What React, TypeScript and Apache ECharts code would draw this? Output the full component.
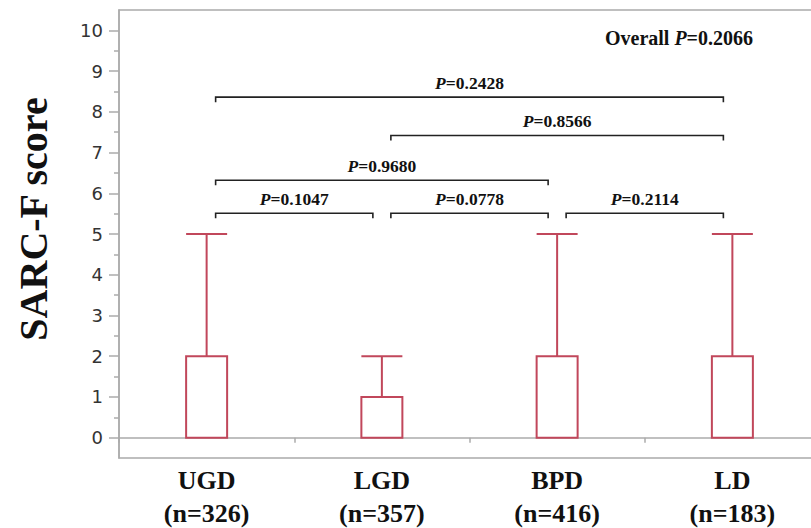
import React, { useEffect, useRef } from 'react';
import * as echarts from 'echarts';

const categories = ['UGD', 'LGD', 'BPD', 'LD'];
const groupSizes = [326, 357, 416, 183];
const mins = [0, 0, 0, 0];
const q1s = [0, 0, 0, 0];
const medians = [0, 0, 0, 0];
const q3s = [2, 1, 2, 2];
const maxes = [5, 2, 5, 5];
const majorTicks = [0, 1, 2, 3, 4, 5, 6, 7, 8, 9, 10];
const minorTicks = [0.5, 1.5, 2.5, 3.5, 4.5, 5.5, 6.5, 7.5, 8.5, 9.5];
const bracketFrom = [0, 1, 0, 0, 1, 2];
const bracketTo = [3, 3, 2, 1, 2, 3];
const bracketLevel = [8.36, 7.42, 6.32, 5.51, 5.51, 5.51];
const bracketP = ['0.2428', '0.8566', '0.9680', '0.1047', '0.0778', '0.2114'];
const overallP = '0.2066';

const SERIF = '"Liberation Serif", "Times New Roman", serif';
const BOX = '#C1475B';
const AXIS = '#ababab';

export default function App() {
  const ref = useRef<HTMLDivElement>(null);
  useEffect(() => {
    if (!ref.current) return;
    document.body.style.margin = '0';
    const chart = echarts.init(ref.current, null, { renderer: 'svg' });
    const boxData = categories.map((_, i) => [mins[i], q1s[i], medians[i], q3s[i], maxes[i]]);
    const bracketData = bracketFrom.map((f, i) => [f, bracketTo[i], bracketLevel[i], i]);
    chart.setOption({
      animation: false,
      grid: {
        left: 119, width: 701, top: 10, height: 448,
        outerBoundsMode: 'none', containLabel: false,
        show: true, borderColor: AXIS, borderWidth: 1.5, backgroundColor: 'transparent',
      },
      xAxis: {
        type: 'category',
        data: categories,
        axisLine: { lineStyle: { color: AXIS, width: 1.5 } },
        axisTick: { show: true, length: 5, lineStyle: { color: AXIS, width: 1.5 } },
        axisLabel: {
          margin: 6,
          formatter: (v: string, i: number) => `{a|${v}}\n{a|(n=${groupSizes[i]})}`,
          rich: {
            a: { fontFamily: SERIF, fontWeight: 'bold', fontSize: 26, lineHeight: 33, color: '#111' },
          },
        },
        splitLine: { show: false },
      },
      yAxis: [
        {
          type: 'value', min: -0.5, max: 10.5,
          axisLine: { show: true, lineStyle: { color: AXIS, width: 1.5 } },
          axisTick: { show: true, length: 10, customValues: majorTicks, lineStyle: { color: AXIS, width: 1.5 } },
          axisLabel: {
            customValues: majorTicks, margin: 16,
            fontFamily: '"DejaVu Sans", Verdana, sans-serif', fontSize: 18, color: '#333',
          },
          splitLine: { show: false },
        },
        {
          type: 'value', min: -0.5, max: 10.5, position: 'left',
          axisLine: { show: false },
          axisTick: { show: true, length: 5, customValues: minorTicks, lineStyle: { color: AXIS, width: 1.5 } },
          axisLabel: { show: false },
          splitLine: { show: false },
        },
      ],
      graphic: [
        {
          type: 'text', x: 33, y: 219, rotation: Math.PI / 2,
          style: {
            text: 'SARC-F score', align: 'center', verticalAlign: 'middle',
            fontFamily: SERIF, fontWeight: 'bold', fontSize: 40, fill: '#111',
          },
        },
        {
          type: 'text', x: 753, y: 38,
          style: {
            text: `{b|Overall }{i|P}{b|=${overallP}}`, align: 'right', verticalAlign: 'middle',
            fontFamily: SERIF, fontWeight: 'bold', fontSize: 20, fill: '#111',
            rich: {
              b: { fontFamily: SERIF, fontWeight: 'bold', fontSize: 20, fill: '#111' },
              i: { fontFamily: SERIF, fontWeight: 'bold', fontStyle: 'italic', fontSize: 20, fill: '#111' },
            },
          },
        },
      ],
      series: [
        {
          type: 'boxplot',
          data: boxData,
          boxWidth: [41, 41],
          itemStyle: { color: 'transparent', borderColor: BOX, borderWidth: 2 },
        },
        {
          type: 'custom',
          data: bracketData,
          encode: { x: [0, 1], y: 2 },
          renderItem: (params: any, api: any) => {
            const from = api.value(0);
            const to = api.value(1);
            const lvl = api.value(2);
            const idx = api.value(3);
            const a = api.coord([from, lvl]);
            const b = api.coord([to, lvl]);
            const x1 = a[0] + 9;
            const x2 = b[0] - 9;
            const y = a[1];
            return {
              type: 'group',
              children: [
                {
                  type: 'polyline',
                  shape: { points: [[x1, y + 5], [x1, y], [x2, y], [x2, y + 5]] },
                  style: { stroke: '#222', lineWidth: 1.6, fill: null },
                },
                {
                  type: 'text',
                  x: (x1 + x2) / 2,
                  y: y - 5,
                  style: {
                    text: `{i|P}{b|=${bracketP[idx]}}`,
                    align: 'center', verticalAlign: 'bottom',
                    fontFamily: SERIF, fontWeight: 'bold', fontSize: 17.5, fill: '#111',
                    rich: {
                      b: { fontFamily: SERIF, fontWeight: 'bold', fontSize: 17.5, fill: '#111' },
                      i: { fontFamily: SERIF, fontWeight: 'bold', fontStyle: 'italic', fontSize: 17.5, fill: '#111' },
                    },
                  },
                },
              ],
            };
          },
        },
      ],
    });
    return () => chart.dispose();
  }, []);
  return <div ref={ref} style={{ width: 811, height: 528 }} />;
}
